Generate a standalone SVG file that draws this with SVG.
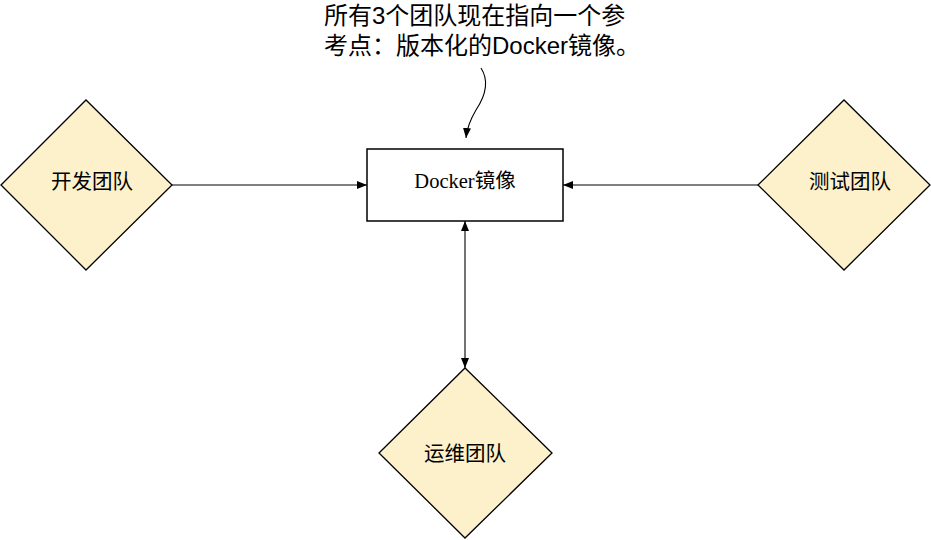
<svg xmlns="http://www.w3.org/2000/svg" width="931" height="540" viewBox="0 0 931 540">
<style>
.dia{fill:#fcf1cb;stroke:#000;stroke-width:1.3}
.box{fill:#fff;stroke:#000;stroke-width:1.5}
.lbl{font-family:"Liberation Serif","Noto Sans CJK SC",serif;font-size:20.5px;fill:#000;text-anchor:middle;dominant-baseline:central}
.note{font-family:"Liberation Sans","Noto Sans CJK SC",sans-serif;font-size:24px;fill:#000}
.con{fill:none;stroke:#000;stroke-width:1.1}
</style>
<defs>
<marker id="ah" viewBox="0 0 10 8" refX="10" refY="4" markerWidth="10" markerHeight="8" markerUnits="userSpaceOnUse" orient="auto-start-reverse">
<path d="M0,0 L10,4 L0,8 Z" fill="#000"/>
</marker>
</defs>
<rect width="931" height="540" fill="#fff"/>
<g id="connectors">
<line class="con" x1="172" y1="185" x2="367" y2="185" marker-end="url(#ah)"/>
<line class="con" x1="758" y1="185" x2="563" y2="185" marker-end="url(#ah)"/>
<line class="con" x1="465" y1="221" x2="465" y2="368" marker-start="url(#ah)" marker-end="url(#ah)"/>
<path class="con" d="M481,68 C490,82 484,98 476,110 C470,120 467,128 466,138" marker-end="url(#ah)"/>
</g>
<g id="note">
<text class="note" x="324" y="24">所有3个团队现在指向一个参</text>
<text class="note" x="324" y="54">考点：版本化的Docker镜像。</text>
</g>
<g id="docker">
<rect class="box" x="367" y="149" width="196" height="72"/>
<text class="lbl" x="465" y="181">Docker镜像</text>
</g>
<g id="dev">
<polygon class="dia" points="1,185 86,100 172,185 86,270"/>
<text class="lbl" x="92" y="182">开发团队</text>
</g>
<g id="test">
<polygon class="dia" points="758,185 844,100 930,185 844,270"/>
<text class="lbl" x="850" y="182">测试团队</text>
</g>
<g id="ops">
<polygon class="dia" points="379,453 465,368 552,453 465,538"/>
<text class="lbl" x="465" y="454">运维团队</text>
</g>
</svg>
